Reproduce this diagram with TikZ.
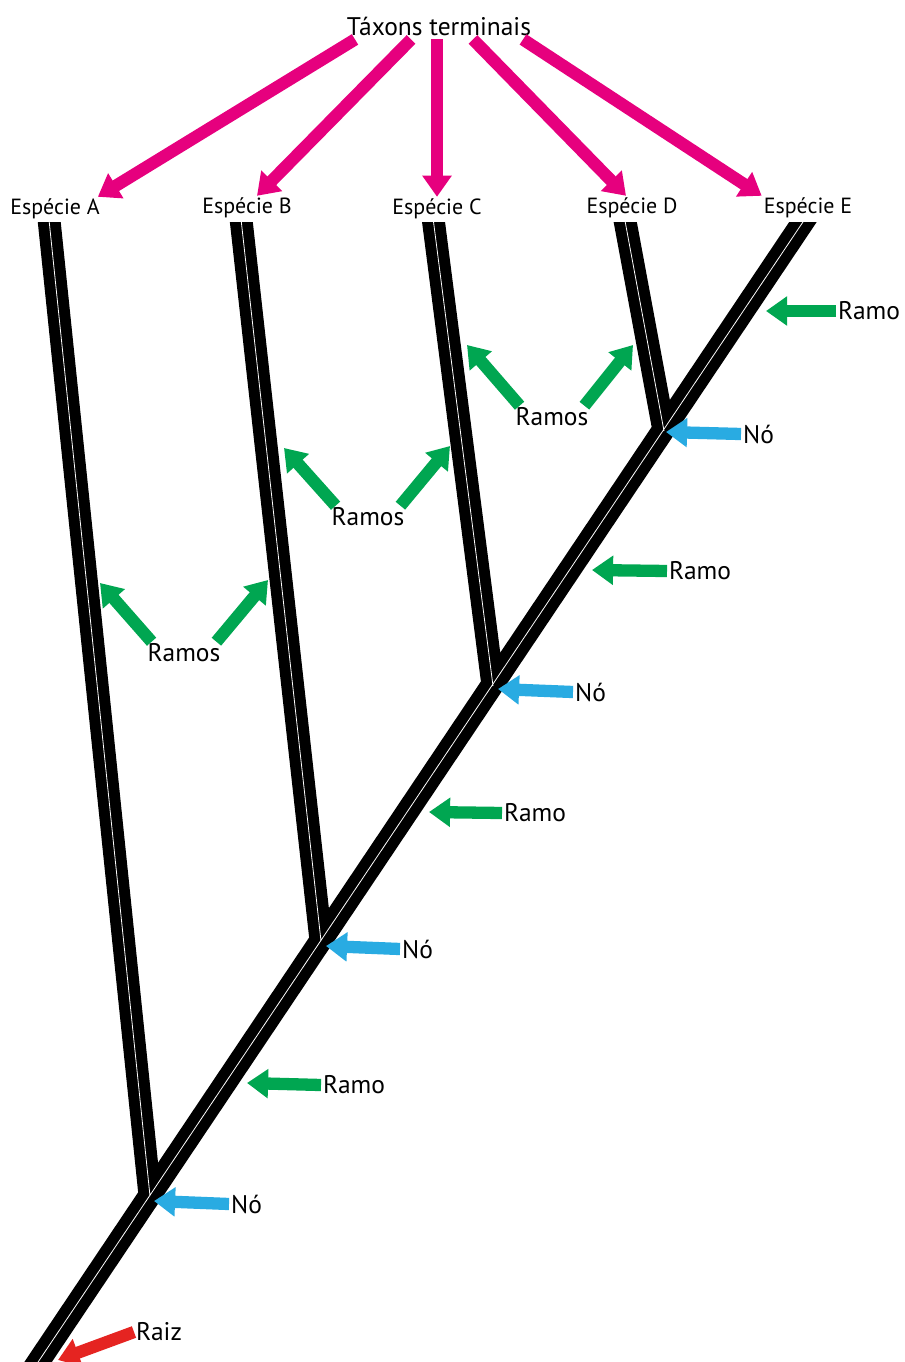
\documentclass[tikz,border=0pt]{standalone}
\usepackage{fontspec}
\setmainfont{PT Sans}
\usetikzlibrary{arrows.meta,calc}
\definecolor{taxpink}{HTML}{E6007E}
\definecolor{ramogreen}{HTML}{00A651}
\definecolor{noblue}{HTML}{29ABE2}
\definecolor{raizred}{HTML}{E52421}

\begin{document}
\begin{tikzpicture}[x=0.02cm,y=-0.02cm,
    splbl/.style={font=\fontsize{12.5}{15}\selectfont,inner sep=1pt},
    toplbl/.style={font=\fontsize{14.5}{17}\selectfont,inner sep=1pt},
    tag/.style={font=\fontsize{14.5}{17}\selectfont,inner sep=1pt,anchor=west},
    fat/.style={line width=7pt,-{Triangle[length=12pt,width=16pt]}},
    branch/.style={line width=13pt,line join=miter},
    core/.style={white,line width=0.45pt,line join=miter}]
  \useasboundingbox (0,0) rectangle (905,1362);

  % the tree
  \coordinate (root) at (26,1380);
  \coordinate (nA) at (150,1196);
  \coordinate (nB) at (321,941);
  \coordinate (nC) at (493,686);
  \coordinate (nD) at (664,431);
  \coordinate (tA) at (48,210);
  \coordinate (tB) at (240,210);
  \coordinate (tC) at (432,210);
  \coordinate (tD) at (623,210);
  \coordinate (tE) at (811,210);
  \begin{scope}
    \clip (0,222) rectangle (905,1362);
    \draw[branch] (tE) -- (root) (tA) -- (nA) (tB) -- (nB) (tC) -- (nC) (tD) -- (nD);
    \draw[core] (tE) -- (root) (tA) -- (nA) (tB) -- (nB) (tC) -- (nC) (tD) -- (nD);
  \end{scope}

  % terminal taxa
  \node[toplbl] (title) at (439,26) {Táxons terminais};
  \node[splbl] (spA) at (55,209) {Espécie A};
  \node[splbl] (spB) at (247,208) {Espécie B};
  \node[splbl] (spC) at (437,209) {Espécie C};
  \node[splbl] (spD) at (632,208) {Espécie D};
  \node[splbl] (spE) at (808,208) {Espécie E};
  \draw[fat,taxpink] ($(title.south)+(-84,2)$) -- ($(spA.north east)+(-4,0)$);
  \draw[fat,taxpink] ($(title.south)+(-28,2)$) -- ($(spB.north)+(10,0)$);
  \draw[fat,taxpink] ($(title.south)+(-2,2)$) -- (spC.north);
  \draw[fat,taxpink] ($(title.south)+(34,2)$) -- ($(spD.north)+(-6,0)$);
  \draw[fat,taxpink] ($(title.south)+(84,2)$) -- (spE.north west);

  % branches
  \node[tag] (ramoE) at (836,311) {Ramo};
  \node[tag] (ramoD) at (667,571) {Ramo};
  \node[tag] (ramoC) at (502,813) {Ramo};
  \node[tag] (ramoB) at (321,1085) {Ramo};
  \coordinate (ramoEtip) at (766,311);
  \coordinate (ramoDtip) at (592,570);
  \coordinate (ramoCtip) at (429,812);
  \coordinate (ramoBtip) at (247,1083);
  \draw[fat,ramogreen] (ramoE.west) -- (ramoEtip);
  \draw[fat,ramogreen] (ramoD.west) -- (ramoDtip);
  \draw[fat,ramogreen] (ramoC.west) -- (ramoCtip);
  \draw[fat,ramogreen] (ramoB.west) -- (ramoBtip);

  \node[tag,anchor=center] (ramosA) at (184,653) {Ramos};
  \node[tag,anchor=center] (ramosB) at (368,517) {Ramos};
  \node[tag,anchor=center] (ramosC) at (552,417) {Ramos};
  \coordinate (ramosAl) at (100,583);
  \coordinate (ramosAr) at (268,580);
  \coordinate (ramosBl) at (284,448);
  \coordinate (ramosBr) at (450,446);
  \coordinate (ramosCl) at (467,345);
  \coordinate (ramosCr) at (633,345);
  \draw[fat,ramogreen] ($(ramosA.north west)+(6,0)$) -- (ramosAl);
  \draw[fat,ramogreen] ($(ramosA.north east)+(-6,0)$) -- (ramosAr);
  \draw[fat,ramogreen] ($(ramosB.north west)+(6,0)$) -- (ramosBl);
  \draw[fat,ramogreen] ($(ramosB.north east)+(-6,0)$) -- (ramosBr);
  \draw[fat,ramogreen] ($(ramosC.north west)+(6,0)$) -- (ramosCl);
  \draw[fat,ramogreen] ($(ramosC.north east)+(-6,0)$) -- (ramosCr);

  % nodes
  \node[tag] (noD) at (741,434) {Nó};
  \node[tag] (noC) at (573,692) {Nó};
  \node[tag] (noB) at (400,949) {Nó};
  \node[tag] (noA) at (229,1204) {Nó};
  \coordinate (noDtip) at (666,432);
  \coordinate (noCtip) at (498,689);
  \coordinate (noBtip) at (326,946);
  \coordinate (noAtip) at (154,1201);
  \draw[fat,noblue] (noD.west) -- (noDtip);
  \draw[fat,noblue] (noC.west) -- (noCtip);
  \draw[fat,noblue] (noB.west) -- (noBtip);
  \draw[fat,noblue] (noA.west) -- (noAtip);

  % root
  \node[tag] (raiz) at (134,1332) {Raiz};
  \coordinate (raiztip) at (58,1360);
  \draw[fat,raizred] (raiz.west) -- (raiztip);
\end{tikzpicture}
\end{document}
